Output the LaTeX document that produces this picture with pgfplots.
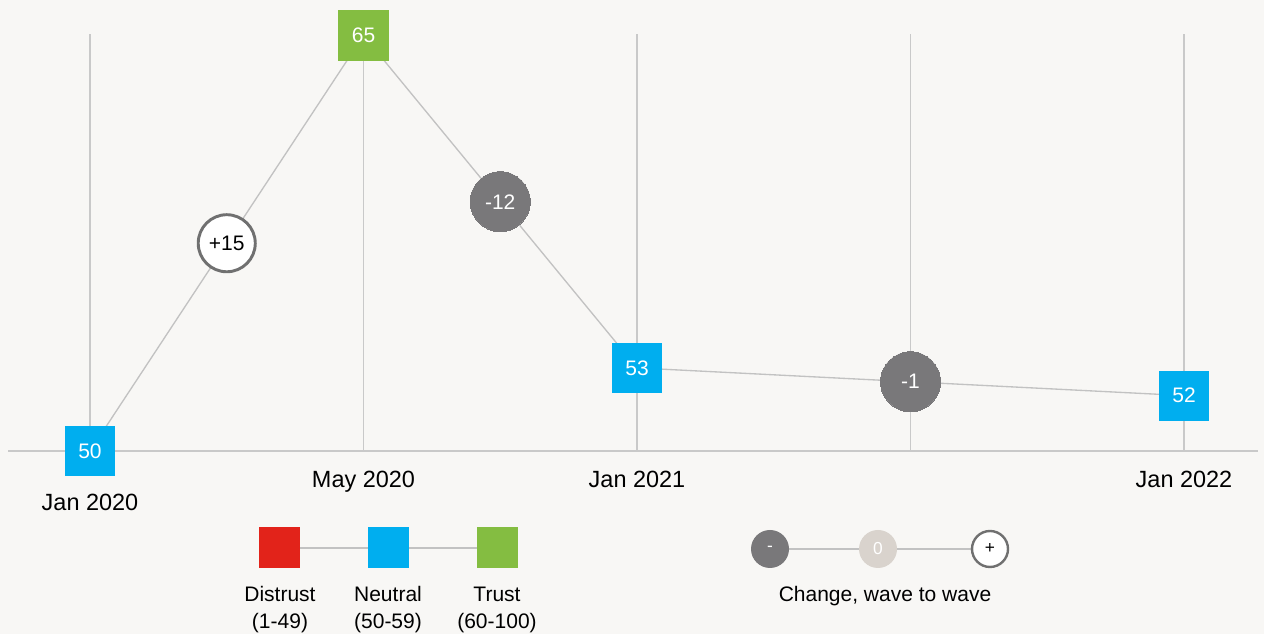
\documentclass[border=0pt]{standalone}
\usepackage{pgfplots}
\pgfplotsset{compat=1.18}
\usepackage{pgfplotstable}
\usepackage{fontspec}
\setmainfont{Liberation Sans}
\definecolor{bg}{HTML}{F8F7F5}
\definecolor{cgreen}{HTML}{84BD41}
\definecolor{cblue}{HTML}{00AEEF}
\definecolor{cred}{HTML}{E2231A}
\definecolor{cdark}{HTML}{79787A}
\definecolor{cbeige}{HTML}{D9D3CD}
\definecolor{cborder}{HTML}{707070}
\definecolor{cgrid}{HTML}{C9C9C9}
\definecolor{cline}{HTML}{C2C2C2}

\pgfplotstableread{
x y
0 50
1 65
2 53
4 52
}\series
\pgfplotstableread{
x y label
0 50 50
2 53 53
4 52 52
}\neutral
\pgfplotstableread{
x y label
1 65 65
}\trustpts
\pgfplotstableread{
x y label
0.5 57.5 +15
}\posch
\pgfplotstableread{
x y label
1.5 59 -12
3 52.5 -1
}\negch

\begin{document}
\begin{tikzpicture}
\useasboundingbox (0,0) rectangle (948pt,475.5pt);
\fill[bg] (0,0) rectangle (948pt,475.5pt);
\begin{axis}[
  at={(0,0)}, anchor=south west,
  scale only axis, width=948pt, height=475.5pt,
  xmin=-0.32907, xmax=4.29250, ymin=43.3935, ymax=66.2816,
  axis lines=none, clip=false,
  ]
\pgfplotsinvokeforeach{0,1,2,3,4}{
  \draw[cgrid, line width=1.1pt] (axis cs:#1,50) -- (axis cs:#1,65.07);
}
\draw[cgrid, line width=1.4pt] (axis cs:-0.2998,50) -- (axis cs:4.2706,50);

\addplot[cline, line width=1pt, mark=none] table[x=x,y=y]{\series};

\addplot[cblue, only marks, mark=square*, mark size=18.4pt,
  mark options={fill=cblue, draw=cblue, line width=0pt},
  nodes near coords, point meta=explicit symbolic,
  nodes near coords align={center},
  every node near coord/.append style={anchor=center, text=white, font=\fontsize{15.75pt}{18pt}\selectfont}
] table[x=x,y=y,meta=label]{\neutral};
\addplot[cgreen, only marks, mark=square*, mark size=18.4pt,
  mark options={fill=cgreen, draw=cgreen, line width=0pt},
  nodes near coords, point meta=explicit symbolic,
  nodes near coords align={center},
  every node near coord/.append style={anchor=center, text=white, font=\fontsize{15.75pt}{18pt}\selectfont}
] table[x=x,y=y,meta=label]{\trustpts};

\addplot[cborder, only marks, mark=*, mark size=21.4pt,
  mark options={fill=white, draw=cborder, line width=2.2pt},
  nodes near coords, point meta=explicit symbolic,
  nodes near coords align={center},
  every node near coord/.append style={anchor=center, text=black, font=\fontsize{15.75pt}{18pt}\selectfont}
] table[x=x,y=y,meta=label]{\posch};
\addplot[cdark, only marks, mark=*, mark size=22.5pt,
  mark options={fill=cdark, draw=cdark, line width=0pt},
  nodes near coords, point meta=explicit symbolic,
  nodes near coords align={center},
  every node near coord/.append style={anchor=center, text=white, font=\fontsize{15.75pt}{18pt}\selectfont}
] table[x=x,y=y,meta=label]{\negch};

\node[anchor=base, font=\fontsize{17.6pt}{20pt}\selectfont] at (axis cs:0,47.8448) {Jan 2020};
\node[anchor=base, font=\fontsize{17.6pt}{20pt}\selectfont] at (axis cs:1,48.6643) {May 2020};
\node[anchor=base, font=\fontsize{17.6pt}{20pt}\selectfont] at (axis cs:2,48.6643) {Jan 2021};
\node[anchor=base, font=\fontsize{17.6pt}{20pt}\selectfont] at (axis cs:4,48.6643) {Jan 2022};
\end{axis}

\begin{scope}[x=0.75pt,y=-0.75pt,yshift=475.5pt]
  \draw[cline, line width=1.5pt] (279,548) -- (497,548);
  \fill[cred] (258.5,527.5) rectangle (299.5,568.5);
  \fill[cblue] (367.5,527.5) rectangle (408.5,568.5);
  \fill[cgreen] (476.5,527.5) rectangle (517.5,568.5);
  \begin{scope}[every node/.style={anchor=base, font=\fontsize{15.75pt}{18pt}\selectfont}]
  \node at (280,601.7) {Distrust};
  \node at (280,628.5) {(1-49)};
  \node at (388,601.7) {Neutral};
  \node at (388,628.5) {(50-59)};
  \node at (497,601.7) {Trust};
  \node at (497,628.5) {(60-100)};
  \node at (885,601.7) {Change, wave to wave};
  \end{scope}
  \draw[cline, line width=1.5pt] (770,549) -- (990,549);
  \fill[cdark] (770,549) circle[radius=19];
  \fill[cbeige] (878,549) circle[radius=19];
  \draw[cborder, fill=white, line width=1.8pt] (990,549) circle[radius=18];
  \node[text=white, font=\fontsize{13pt}{15pt}\selectfont] at (770,549) {-};
  \node[text=white, font=\fontsize{13pt}{15pt}\selectfont] at (878,549) {0};
  \node[text=black, font=\fontsize{13pt}{15pt}\selectfont] at (990,549) {+};
\end{scope}
\end{tikzpicture}
\end{document}
